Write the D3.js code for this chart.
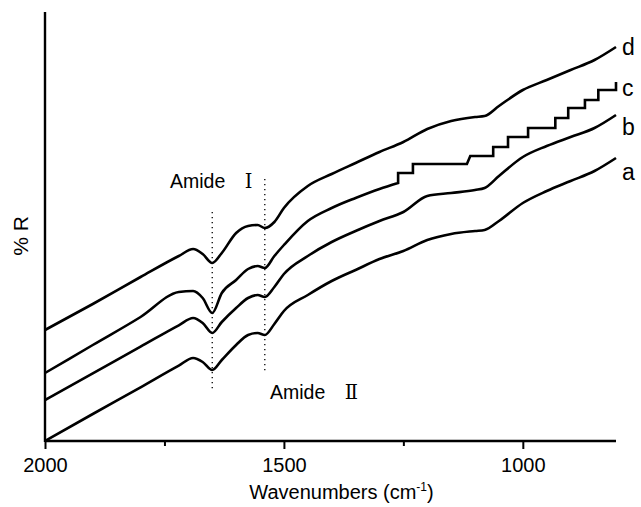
<!DOCTYPE html>
<html><head><meta charset="utf-8">
<script src="https://cdn.jsdelivr.net/npm/d3@7"></script>
<style>body{margin:0;background:#fff}svg{display:block}</style>
</head><body>
<svg id="c" width="641" height="507"></svg>
<script>
// ---- data (wavenumber in cm-1, reflectance in arbitrary units) ----
const wavenumbers = [2000,1900,1800,1720,1690,1670,1650,1630,1600,1575,1555,1540,1520,1500,1450,1400,1350,1300,1250,1200,1150,1100,1080,1050,1000,950,900,850,805];
const seriesA = [0,27,53.7,75.4,83,79,71,81,96,106,108,106,117,130,146,160,171,182,190,201,207,210,211,220,238,250,260,270,283];
const seriesB = [41,67.7,94.3,115.7,123,118,108,119,133,143,146,144,154,167,185,199,210,220,229,245,248,251,253,265,284,295,304,313,326];
const seriesD = [111,137,164,185,192,187,178,188,208,215,216,213,219,233,255,267,278,289,299,312,320,324,325,335,351,361,371,381,394];
const wavenumbersC = [2000,1900,1800,1720,1690,1670,1650,1630,1600,1575,1555,1540,1520,1500,1450,1400,1350,1300,1261,1261,1230,1230,1117,1110,1062,1062,1031,1031,989,989,932,932,905,905,870,870,842,842,805,805];
const seriesC = [68,96,124,149,150,143,128,148,161,172,175,173,185,196,220,233,243,252,258,268,268,277,277,285,285,294,294,304,304,313,313,323,323,333,333,341,341,351,351,359];
const seriesNames = ["a","b","c","d"];
const labelValues = [269,314,353,394];
const xTicks = [2000,1500,1000];
const xMinorTicks = [1750,1250];
const amideBands = [1650,1540];
const amideLineTop = [229,262];
const amideLineBottom = [49,69];
const amideLabels = ["Amide ","Amide "];
const amideNumerals = ["\u2160","\u2161"];

const svg = d3.select("#c");
const mLeft = 45, mRight = 616, mTop = 12, mBottom = 441;
const x = d3.scaleLinear().domain([2000, 805]).range([mLeft, mRight]);
const y = d3.scaleLinear().domain([0, 429]).range([mBottom, mTop]);
const font = "Arial, 'Liberation Sans', sans-serif";

// dotted band lines
amideBands.forEach((w,i)=>{
  svg.append("line").attr("x1",x(w)).attr("x2",x(w))
    .attr("y1",y(amideLineTop[i])).attr("y2",y(amideLineBottom[i]))
    .attr("stroke","#000").attr("stroke-width",1.3).attr("stroke-dasharray","1.3,3.7");
});

// curves
const smooth = d3.line().x(d=>x(d[0])).y(d=>y(d[1])).curve(d3.curveMonotoneX);
const straight = d3.line().x(d=>x(d[0])).y(d=>y(d[1]));
const ptsC = d3.zip(wavenumbersC, seriesC).map(p=>[p[0],p[1]]);
const stepStart = 18; // first point of the stepped stretch of curve c
const paths = [
  smooth(d3.zip(wavenumbers, seriesA)),
  smooth(d3.zip(wavenumbers, seriesB)),
  smooth(ptsC.slice(0, stepStart+1)) + straight(ptsC.slice(stepStart)).replace(/^M/,"L"),
  smooth(d3.zip(wavenumbers, seriesD))
];
paths.forEach(p=>{
  svg.append("path").attr("d", p).attr("fill","none")
    .attr("stroke","#000").attr("stroke-width",2.6).attr("stroke-linejoin","miter");
});

// axes
const xAxis = d3.axisBottom(x).tickValues(xTicks).tickSize(8).tickFormat(d3.format("d"));
const gx = svg.append("g").attr("transform",`translate(0,${mBottom})`).call(xAxis);
gx.select(".domain").attr("d",`M${mLeft},0H${mRight}`).attr("stroke-width",2.4);
gx.selectAll(".tick line").attr("stroke-width",2);
gx.selectAll(".tick text").attr("font-family",font).attr("font-size",20).attr("dy","1em").attr("fill","#000");
const gm = svg.append("g").attr("transform",`translate(0,${mBottom})`)
  .call(d3.axisBottom(x).tickValues(xMinorTicks).tickSize(5).tickFormat(""));
gm.select(".domain").remove();
gm.selectAll(".tick line").attr("stroke-width",2);

svg.append("line").attr("x1",mLeft).attr("x2",mLeft).attr("y1",mTop).attr("y2",mBottom+1)
  .attr("stroke","#000").attr("stroke-width",2.4);

// axis titles
const xt = svg.append("text").attr("x",(mLeft+mRight)/2 + 11).attr("y",499)
  .attr("text-anchor","middle").attr("font-family",font).attr("font-size",20);
xt.append("tspan").text("Wavenumbers (cm");
xt.append("tspan").attr("font-size",12).attr("dy",-8).text("-1");
xt.append("tspan").attr("dy",8).text(")");

svg.append("text").attr("transform","translate(28,236) rotate(-90)")
  .attr("text-anchor","middle").attr("font-family",font).attr("font-size",21).text("% R");

// series labels
seriesNames.forEach((n,i)=>{
  svg.append("text").attr("x",622).attr("y",y(labelValues[i])).attr("dy","0.35em")
    .attr("font-family",font).attr("font-size",23).text(n);
});

// amide labels
const amidePos = [[170,188],[270,399]];
amideLabels.forEach((t,i)=>{
  const tx = svg.append("text").attr("x",amidePos[i][0]).attr("y",amidePos[i][1])
    .attr("font-family",font).attr("font-size",19.5);
  tx.append("tspan").text(t);
  tx.append("tspan").attr("font-family","'DejaVu Serif', serif").attr("dx",14).text(amideNumerals[i]);
});
</script>
</body></html>
